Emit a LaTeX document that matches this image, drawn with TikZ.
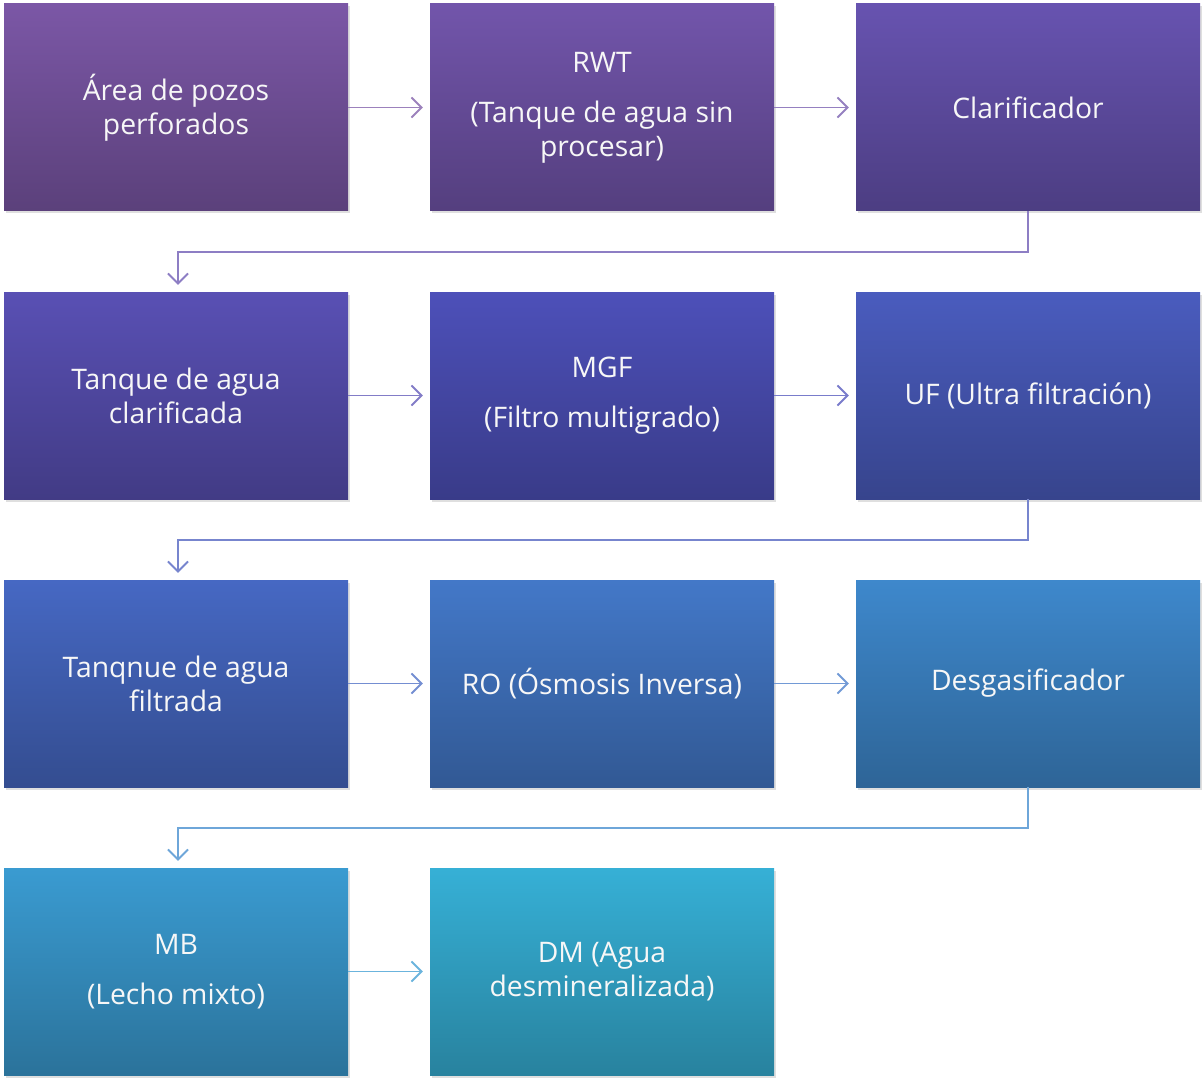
\documentclass[tikz,border=0pt]{standalone}
\usepackage{fontspec}
\setmainfont{Open Sans}
\usetikzlibrary{arrows.meta,shadows}
\definecolor{c1}{RGB}{123,87,166}
\definecolor{c2}{RGB}{114,85,171}
\definecolor{c3}{RGB}{103,83,176}
\definecolor{c4}{RGB}{89,80,180}
\definecolor{c5}{RGB}{77,80,185}
\definecolor{c6}{RGB}{74,92,190}
\definecolor{c7}{RGB}{70,104,195}
\definecolor{c8}{RGB}{67,120,200}
\definecolor{c9}{RGB}{62,136,204}
\definecolor{c10}{RGB}{58,155,209}
\definecolor{c11}{RGB}{54,176,214}
\tikzset{
  procbox/.style={rectangle, minimum width=344pt, minimum height=207pt, inner sep=0pt,
    top color=#1, bottom color=#1!74!black, text=white!94!gray,
    font=\fontsize{28.3}{34}\selectfont, align=center,
    drop shadow={opacity=0.25, shadow xshift=1.5pt, shadow yshift=-2.5pt}},
  flow/.style={draw=#1, line width=1.9pt, -{Straight Barb[length=10pt,width=20pt,line width=1.9pt]}},
}
\begin{document}
\begin{tikzpicture}[x=1pt,y=-1pt]
\useasboundingbox (0,0) rectangle (1202,1078);
\node[procbox=c1]  (b1)  at (176,107.5)  {Área de pozos\\perforados};
\node[procbox=c2]  (b2)  at (602,107.5)  {RWT\\[16pt](Tanque de agua sin\\procesar)};
\node[procbox=c3]  (b3)  at (1028,107.5) {Clarificador};
\node[procbox=c4]  (b4)  at (176,395.5)  {Tanque de agua\\clarificada};
\node[procbox=c5]  (b5)  at (602,395.5)  {MGF\\[16pt](Filtro multigrado)};
\node[procbox=c6]  (b6)  at (1028,395.5) {UF (Ultra filtración)};
\node[procbox=c7]  (b7)  at (176,683.5)  {Tanqnue de agua\\filtrada};
\node[procbox=c8]  (b8)  at (602,683.5)  {RO (Ósmosis Inversa)};
\node[procbox=c9]  (b9)  at (1028,683.5) {Desgasificador};
\node[procbox=c10] (b10) at (176,971.5)  {MB\\[16pt](Lecho mixto)};
\node[procbox=c11] (b11) at (602,971.5)  {DM (Agua\\desmineralizada)};

\draw[flow=c1!75!white] (b1.east) -- ([xshift=-7pt]b2.west);
\draw[flow=c2!75!white] (b2.east) -- ([xshift=-7pt]b3.west);
\draw[flow=c3!75!white] (b3.south) |- (178,252) -- ([yshift=7pt]b4.north -| 178,0);
\draw[flow=c4!75!white] (b4.east) -- ([xshift=-7pt]b5.west);
\draw[flow=c5!75!white] (b5.east) -- ([xshift=-7pt]b6.west);
\draw[flow=c6!75!white] (b6.south) |- (178,540) -- ([yshift=7pt]b7.north -| 178,0);
\draw[flow=c7!75!white] (b7.east) -- ([xshift=-7pt]b8.west);
\draw[flow=c8!75!white] (b8.east) -- ([xshift=-7pt]b9.west);
\draw[flow=c9!75!white] (b9.south) |- (178,828) -- ([yshift=7pt]b10.north -| 178,0);
\draw[flow=c10!75!white] (b10.east) -- ([xshift=-7pt]b11.west);
\end{tikzpicture}
\end{document}
